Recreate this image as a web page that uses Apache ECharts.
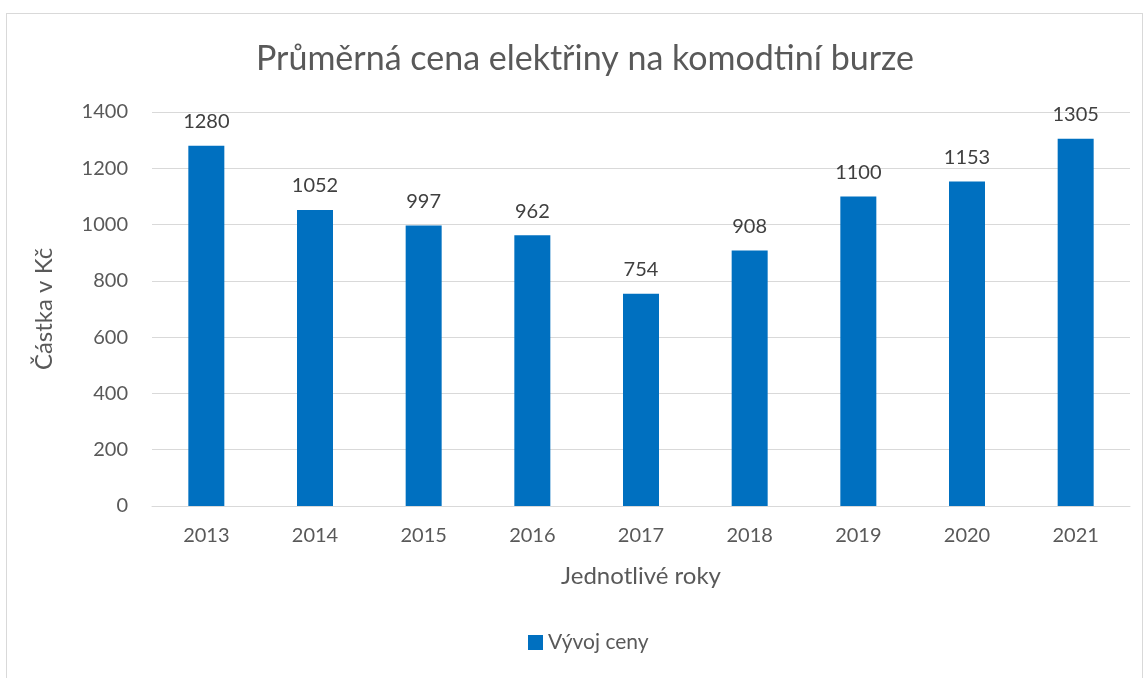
<!DOCTYPE html>
<html>
<head>
<meta charset="utf-8">
<script src="https://cdn.jsdelivr.net/npm/echarts@6/dist/echarts.min.js"></script>
<style>
    html, body { margin: 0; padding: 0; background: #fff; }
    #frame { position: absolute; left: 6px; top: 13px; width: 1135px; height: 700px; border: 1px solid #d9d9d9; }
    #main { position: absolute; left: 0; top: 0; width: 1147px; height: 678px; }
</style>
</head>
<body>
<div id="frame"></div>
<div id="main"></div>
<script>
// roky a ceny
var years = ['2013', '2014', '2015', '2016', '2017', '2018', '2019', '2020', '2021'];
var prices = [1280, 1052, 997, 962, 754, 908, 1100, 1153, 1305];
var yTicks = [0, 200, 400, 600, 800, 1000, 1200, 1400];

var FONT = 'Lato';
var chart = echarts.init(document.getElementById('main'));
chart.setOption({
    animation: false,
    title: {
        text: 'Průměrná cena elektřiny na komodtiní burze',
        left: 580,
        textAlign: 'center',
        top: 37,
        textStyle: { fontFamily: FONT, fontSize: 34, fontWeight: 'normal', color: '#595959' }
    },
    legend: {
        bottom: 20,
        left: 523,
        itemWidth: 15,
        itemHeight: 15,
        itemGap: 5,
        icon: 'rect',
        textStyle: { fontFamily: FONT, fontSize: 21, color: '#595959' },
        data: ['Vývoj ceny']
    },
    grid: { left: 152, right: 17, top: 112, bottom: 172 },
    xAxis: {
        type: 'category',
        data: years,
        name: 'Jednotlivé roky',
        nameLocation: 'middle',
        nameGap: 58,
        nameTextStyle: { fontFamily: FONT, fontSize: 24, color: '#595959' },
        axisLine: { lineStyle: { color: '#d9d9d9' } },
        axisTick: { show: false },
        axisLabel: { fontFamily: FONT, fontSize: 20, color: '#595959', margin: 20 }
    },
    yAxis: {
        type: 'value',
        min: yTicks[0],
        max: yTicks[yTicks.length - 1],
        interval: 200,
        name: 'Částka v Kč',
        nameLocation: 'middle',
        nameGap: 96,
        nameTextStyle: { fontFamily: FONT, fontSize: 24, color: '#595959' },
        axisLine: { show: false },
        axisTick: { show: false },
        axisLabel: {
            fontFamily: FONT, fontSize: 20, color: '#595959', margin: 24,
            formatter: function (v) { return String(v); }
        },
        splitLine: { lineStyle: { color: '#d9d9d9', width: 1 } }
    },
    series: [{
        name: 'Vývoj ceny',
        type: 'bar',
        data: prices,
        barWidth: 36,
        itemStyle: { color: '#0070c0' },
        label: {
            show: true,
            position: 'top',
            distance: 14,
            fontFamily: FONT,
            fontSize: 20,
            color: '#404040'
        }
    }]
});
</script>
</body>
</html>
